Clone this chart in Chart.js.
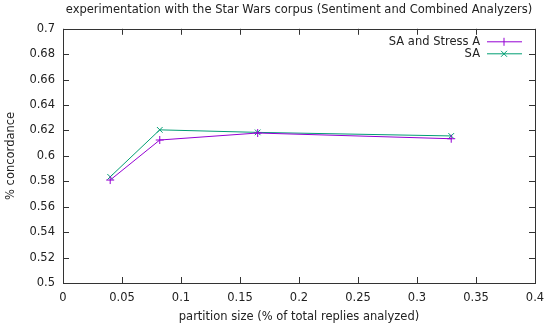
<!DOCTYPE html>
<html>
<head>
<meta charset="utf-8">
<script src="https://cdn.jsdelivr.net/npm/chart.js@4/dist/chart.umd.min.js"></script>
<style>
  html, body { margin: 0; padding: 0; background: #fff; }
  #chart { display: block; }
</style>
</head>
<body>
<canvas id="chart" width="550" height="328"></canvas>
<script>
// data
const partitionSizes = [0.04, 0.082, 0.165, 0.329];
const saStressA = [0.581, 0.6125, 0.618, 0.6135];
const saOnly = [0.5835, 0.6205, 0.6185, 0.6157];
const seriesNames = ['SA and Stress A', 'SA'];
const seriesColors = ['#9400d3', '#009e73'];
const seriesMarkers = ['cross', 'crossRot'];

const FONT = 'DejaVu Sans, sans-serif';
const FONT_SIZE = 11.5;
const TEXT = '#222';

const toPoints = vals => vals.map((v, i) => ({ x: partitionSizes[i], y: v }));
const plainNum = value => String(Number(value.toFixed(4)));

/**
 * gnuplot風の枠と内向きの目盛り
 */
const framePlugin = {
  id: 'frame',
  beforeDatasetsDraw(chart) {
    const { ctx, chartArea: a, scales } = chart;
    const len = 6;
    ctx.save();
    ctx.strokeStyle = '#333';
    ctx.lineWidth = 1;
    ctx.beginPath();
    for (const t of scales.x.ticks) {
      const px = Math.round(scales.x.getPixelForValue(t.value)) + 0.5;
      ctx.moveTo(px, a.bottom); ctx.lineTo(px, a.bottom - len);
      ctx.moveTo(px, a.top); ctx.lineTo(px, a.top + len);
    }
    for (const t of scales.y.ticks) {
      const py = Math.round(scales.y.getPixelForValue(t.value)) + 0.5;
      ctx.moveTo(a.left, py); ctx.lineTo(a.left + len, py);
      ctx.moveTo(a.right, py); ctx.lineTo(a.right - len, py);
    }
    ctx.stroke();
    ctx.strokeRect(Math.round(a.left) + 0.5, Math.round(a.top) + 0.5,
      Math.round(a.right - a.left), Math.round(a.bottom - a.top));
    ctx.restore();
  }
};

/**
 * 凡例（右上、テキスト右寄せ＋線サンプル）
 */
const keyPlugin = {
  id: 'key',
  afterDatasetsDraw(chart) {
    const { ctx, chartArea: a } = chart;
    ctx.save();
    ctx.font = FONT_SIZE + 'px ' + FONT;
    ctx.textAlign = 'right';
    ctx.textBaseline = 'middle';
    chart.data.datasets.forEach((ds, i) => {
      const y = a.top + 13 + i * 12;
      ctx.fillStyle = TEXT;
      ctx.fillText(ds.label, a.right - 55, y);
      const x0 = a.right - 48, x1 = a.right - 13, xm = a.right - 31;
      ctx.strokeStyle = ds.borderColor;
      ctx.lineWidth = 1;
      ctx.beginPath();
      ctx.moveTo(x0, y); ctx.lineTo(x1, y);
      const r = 4;
      if (ds.pointStyle === 'cross') {
        ctx.moveTo(xm, y - r); ctx.lineTo(xm, y + r);
      } else {
        const d = r * 0.75;
        ctx.moveTo(xm - d, y - d); ctx.lineTo(xm + d, y + d);
        ctx.moveTo(xm - d, y + d); ctx.lineTo(xm + d, y - d);
      }
      ctx.stroke();
    });
    ctx.restore();
  }
};

const config = {
  type: 'scatter',
  data: {
    datasets: [saStressA, saOnly].map((vals, i) => ({
      label: seriesNames[i],
      data: toPoints(vals),
      showLine: true,
      borderColor: seriesColors[i],
      backgroundColor: seriesColors[i],
      borderWidth: 1,
      pointStyle: seriesMarkers[i],
      pointRadius: 4,
      pointBorderWidth: 1,
      tension: 0
    }))
  },
  options: {
    responsive: false,
    animation: false,
    layout: { padding: { left: 0, right: 15, top: 0, bottom: 0 } },
    plugins: {
      legend: { display: false },
      tooltip: { enabled: false },
      title: {
        display: true,
        fullSize: false,
        text: 'experimentation with the Star Wars corpus (Sentiment and Combined Analyzers)',
        color: TEXT,
        font: { family: FONT, size: FONT_SIZE, weight: 'normal' },
        padding: { top: 3, bottom: 12 }
      }
    },
    scales: {
      x: {
        type: 'linear',
        min: 0,
        max: 0.4,
        ticks: { stepSize: 0.05, color: TEXT, font: { family: FONT, size: FONT_SIZE }, padding: 8, maxRotation: 0, callback: plainNum },
        grid: { display: false, drawTicks: false },
        border: { display: false },
        title: {
          display: true,
          text: 'partition size (% of total replies analyzed)',
          color: TEXT,
          font: { family: FONT, size: FONT_SIZE },
          padding: { top: 4, bottom: 4 }
        },
        afterFit(scale) {
          scale.height = 45;
          scale.paddingRight = 0;
        }
      },
      y: {
        type: 'linear',
        min: 0.5,
        max: 0.7,
        ticks: { stepSize: 0.02, color: TEXT, font: { family: FONT, size: FONT_SIZE }, padding: 8, callback: plainNum },
        grid: { display: false, drawTicks: false },
        border: { display: false },
        title: {
          display: true,
          text: '% concordance',
          color: TEXT,
          font: { family: FONT, size: FONT_SIZE },
          padding: { top: 4, bottom: 0 }
        },
        afterFit(scale) { scale.width = 63; }
      }
    }
  },
  plugins: [framePlugin, keyPlugin]
};

new Chart(document.getElementById('chart').getContext('2d'), config);
</script>
</body>
</html>
